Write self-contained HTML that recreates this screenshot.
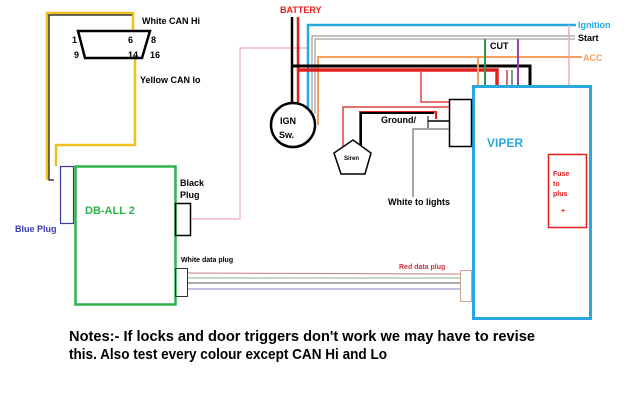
<!DOCTYPE html>
<html><head><meta charset="utf-8"><style>
html,body{margin:0;padding:0;background:#fff;}
svg{display:block;}
text{font-family:"Liberation Sans",sans-serif;font-weight:bold;}
</style></head><body>
<svg width="640" height="400" viewBox="0 0 640 400" xmlns="http://www.w3.org/2000/svg">
<rect width="640" height="400" fill="#fff"/>
<polyline points="56,166 56,145 135,145 135,58" fill="none" stroke="#f0c020" stroke-width="2.5"/>
<polyline points="47,180 47,13 133,13 133,31" fill="none" stroke="#f0c020" stroke-width="2.5"/>
<polyline points="54,180 49,180 49,15 132,15" fill="none" stroke="#111" stroke-width="1.2"/>
<polygon points="78,31 150,31 142,58 85,58" fill="none" stroke="#000" stroke-width="2.5"/>
<g font-size="9" fill="#000">
<text x="72" y="43">1</text><text x="128" y="43">6</text><text x="151" y="43">8</text>
<text x="74" y="58">9</text><text x="128" y="58">14</text><text x="150" y="58">16</text>
</g>
<text x="142" y="24" font-size="9">White CAN Hi</text>
<text x="140" y="83" font-size="9">Yellow CAN lo</text>
<rect x="60.5" y="166.5" width="13" height="57" fill="none" stroke="#3a3aa0" stroke-width="1.2"/>
<rect x="75.5" y="166.5" width="100" height="138" fill="none" stroke="#2db34a" stroke-width="2.5"/>
<text x="85" y="214" font-size="11" fill="#2db34a">DB-ALL 2</text>
<text x="15" y="232" font-size="9" fill="#3a3ab0">Blue Plug</text>
<text x="180" y="186" font-size="9">Black</text>
<text x="180" y="198" font-size="9">Plug</text>
<rect x="175.5" y="203.5" width="15" height="32" fill="none" stroke="#000" stroke-width="1.5"/>
<polyline points="191,219 240,219 240,48 307,48" fill="none" stroke="#f4a6c0" stroke-width="1.2"/>
<text x="181" y="262" font-size="7">White data plug</text>
<rect x="175.5" y="268.5" width="12" height="28" fill="none" stroke="#333" stroke-width="1"/>
<line x1="188" y1="273" x2="460" y2="274" stroke="#c08080" stroke-width="1"/>
<line x1="188" y1="278" x2="460" y2="278" stroke="#90b090" stroke-width="1"/>
<line x1="188" y1="283" x2="460" y2="283" stroke="#555" stroke-width="1"/>
<line x1="188" y1="289" x2="460" y2="289" stroke="#8080c0" stroke-width="1"/>
<rect x="460.5" y="270.5" width="11" height="31" fill="none" stroke="#d0a090" stroke-width="1"/>
<text x="399" y="269" font-size="7" fill="#d03040">Red data plug</text>
<text x="280" y="13" font-size="9" fill="#e02020">BATTERY</text>
<polyline points="308,110 308,25 576,25" fill="none" stroke="#29a8e0" stroke-width="2.5"/>
<text x="578" y="28" font-size="9" fill="#29a8e0">Ignition</text>
<polyline points="312,112 312,36 575,36" fill="none" stroke="#888" stroke-width="1"/>
<polyline points="315,114 315,39 575,39" fill="none" stroke="#888" stroke-width="1"/>
<line x1="489" y1="37.5" x2="515" y2="37.5" stroke="#fff" stroke-width="2" stroke-dasharray="2,2"/>
<text x="578" y="41" font-size="9">Start</text>
<polyline points="318,125 318,57 582,57" fill="none" stroke="#f4a060" stroke-width="2"/>
<text x="583" y="61" font-size="9" fill="#f4a060">ACC</text>
<line x1="292" y1="17" x2="292" y2="106" stroke="#000" stroke-width="2.5"/>
<line x1="298" y1="17" x2="298" y2="108" stroke="#e02020" stroke-width="2.5"/>
<polyline points="292,66 530,66 530,86" fill="none" stroke="#000" stroke-width="3"/>
<polyline points="297,70 497,70 497,86" fill="none" stroke="#e02020" stroke-width="3.5"/>
<polyline points="507,70 507,86" fill="none" stroke="#c04040" stroke-width="1.5"/>
<polyline points="512,70 512,86" fill="none" stroke="#444" stroke-width="1.2"/>
<line x1="478" y1="57" x2="478" y2="86" stroke="#f4a060" stroke-width="2"/>
<line x1="485" y1="39" x2="485" y2="86" stroke="#2a9a40" stroke-width="2"/>
<line x1="518" y1="39" x2="518" y2="86" stroke="#9a40b0" stroke-width="2"/>
<text x="490" y="49" font-size="9">CUT</text>
<line x1="569" y1="25" x2="569" y2="87" stroke="#f4a6c0" stroke-width="1.5"/>
<circle cx="293" cy="125" r="22" fill="#fff" stroke="#000" stroke-width="2.5"/>
<text x="280" y="124" font-size="9">IGN</text>
<text x="279" y="138" font-size="9">Sw.</text>
<rect x="473.5" y="86.5" width="117" height="232" fill="none" stroke="#29a8e0" stroke-width="3"/>
<text x="487" y="147" font-size="12" fill="#29a8e0">VIPER</text>
<rect x="548.5" y="154.5" width="38" height="73" fill="none" stroke="#e02020" stroke-width="1.5"/>
<g font-size="7" fill="#e02020"><text x="553" y="176">Fuse</text><text x="553" y="186">to</text><text x="553" y="196">plus</text><text x="561" y="213">+</text></g>
<polyline points="421,70 421,102 450,102" fill="none" stroke="#e04040" stroke-width="1.5"/>
<rect x="449.5" y="99.5" width="22" height="47" fill="#fff" stroke="#000" stroke-width="1.5"/>
<polyline points="343,153 343,107 449,107" fill="none" stroke="#e04040" stroke-width="1.5"/>
<polyline points="360,145 360,112 436,112 436,119" fill="none" stroke="#e02020" stroke-width="2"/>
<polyline points="361,145 361,113 434,113" fill="none" stroke="#000" stroke-width="2"/>
<polyline points="428,116 428,128" fill="none" stroke="#000" stroke-width="1"/>
<line x1="428" y1="121" x2="449" y2="121" stroke="#000" stroke-width="1.5"/>
<polyline points="413,197 413,129 449,129" fill="none" stroke="#888" stroke-width="1.5"/>
<text x="381" y="123" font-size="9">Ground/</text>
<polygon points="353,140 371,153 365,174 341,174 334,153" fill="#fff" stroke="#000" stroke-width="1.5"/>
<text x="344" y="160" font-size="6">Siren</text>
<text x="388" y="205" font-size="9">White to lights</text>
<text x="69" y="341" font-size="15" textLength="466" lengthAdjust="spacingAndGlyphs">Notes:- If locks and door triggers don't work we may have to revise</text>
<text x="69" y="359" font-size="15" textLength="318" lengthAdjust="spacingAndGlyphs">this. Also test every colour except CAN Hi and Lo</text>
</svg>
</body></html>
